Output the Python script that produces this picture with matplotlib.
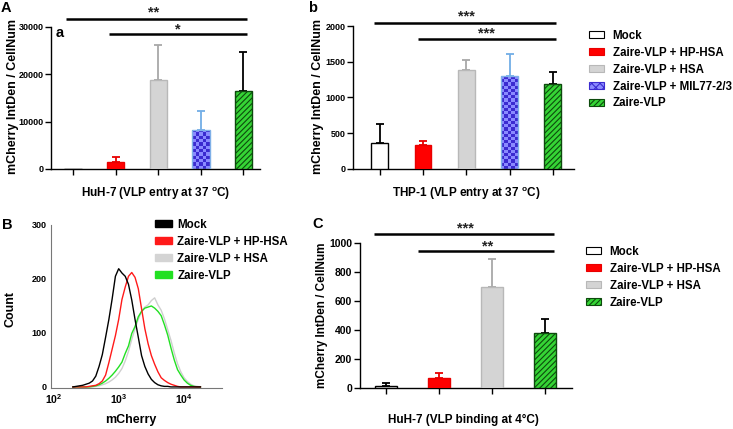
import numpy as np
import matplotlib.pyplot as plt
from matplotlib.patches import Patch
from matplotlib.colors import ListedColormap
from matplotlib.ticker import NullLocator

plt.rcParams['font.family'] = ['Liberation Sans', 'DejaVu Sans']
plt.rcParams['font.weight'] = 'bold'
plt.rcParams['mathtext.fontset'] = 'custom'
plt.rcParams['mathtext.rm'] = 'Liberation Sans:bold'
plt.rcParams['mathtext.bf'] = 'Liberation Sans:bold'
plt.rcParams['mathtext.it'] = 'Liberation Sans:bold'
plt.rcParams['hatch.linewidth'] = 0.8

# ---- data ----
groups_entry = ["Mock", "Zaire-VLP + HP-HSA", "Zaire-VLP + HSA",
                "Zaire-VLP + MIL77-2/3", "Zaire-VLP"]
huh7_entry_mean = [0, 1400, 18900, 8300, 16500]
huh7_entry_upper = [0, 2450, 26300, 12250, 24700]
thp1_entry_mean = [370, 330, 1380, 1300, 1190]
thp1_entry_upper = [635, 395, 1520, 1605, 1360]

groups_binding = ["Mock", "Zaire-VLP + HP-HSA", "Zaire-VLP + HSA", "Zaire-VLP"]
huh7_binding_mean = [16, 71, 700, 380]
huh7_binding_upper = [34, 106, 892, 476]

# flow cytometry histogram (log10 mCherry channel -> count)
log_mcherry = [2.30, 2.35, 2.40, 2.45, 2.50, 2.55, 2.60, 2.65, 2.70, 2.75,
               2.80, 2.85, 2.90, 2.95, 3.00, 3.05, 3.10, 3.15, 3.20, 3.25,
               3.30, 3.35, 3.40, 3.45, 3.50, 3.55, 3.60, 3.65, 3.70, 3.75,
               3.80, 3.85, 3.90, 3.95, 4.00, 4.05, 4.10, 4.15, 4.20, 4.25]
count_mock = [0, 1, 2, 3, 5, 7, 11, 20, 38, 60,
              92, 125, 163, 205, 219, 211, 205, 190, 161, 125,
              92, 58, 38, 24, 14, 8, 4, 2, 1, 1,
              0, 0, 0, 0, 0, 0, 0, 0, 0, 0]
count_hphsa = [0, 0, 0, 0, 0, 1, 2, 3, 6, 11,
               22, 45, 70, 95, 125, 162, 185, 205, 212, 203,
               182, 145, 108, 80, 58, 42, 28, 17, 12, 8,
               5, 3, 1, 0, 0, 0, 0, 0, 0, 0]
count_hsa = [0, 0, 0, 0, 0, 0, 0, 1, 2, 4,
             6, 9, 13, 18, 25, 34, 48, 66, 88, 108,
             125, 140, 148, 152, 160, 165, 152, 142, 126, 106,
             86, 63, 43, 28, 17, 10, 5, 2, 1, 0]
count_vlp = [0, 0, 0, 0, 0, 0, 1, 2, 4, 7,
             11, 16, 22, 29, 37, 46, 62, 76, 99, 112,
             130, 140, 146, 148, 150, 146, 140, 132, 115, 96,
             72, 50, 32, 22, 13, 7, 3, 1, 0, 0]

W, H = 733, 429
fig = plt.figure(figsize=(W / 100, H / 100), dpi=100)


def px_axes(left, top, right, bottom):
    return fig.add_axes([left / W, 1 - bottom / H, (right - left) / W, (bottom - top) / H])


def ftext(x, y, s, **kw):
    fig.text(x / W, 1 - y / H, s, **kw)


styles = {
    "Mock": dict(fc="white", ec="black", err="black", hatch=None),
    "Zaire-VLP + HP-HSA": dict(fc="#ff0000", ec="#e80000", err="#e80000", hatch=None),
    "Zaire-VLP + HSA": dict(fc="#d4d4d4", ec="#b8b8b8", err="#a8a8a8", hatch=None),
    "Zaire-VLP + MIL77-2/3": dict(fc="none", ec="#7fb0e8", err="#72aee6", hatch=None),
    "Zaire-VLP": dict(fc="#35d435", ec="#0d4a0d", err="black", hatch="//////"),
}
checker_cmap = ListedColormap(["#8a8aff", "#3b2bd0"])


def bar_panel(ax, groups, means, uppers, width, xlim, ylim, yticks, tick_fs):
    x = np.arange(len(groups))
    ax.set_xlim(*xlim)
    ax.set_ylim(*ylim)
    for i, g in enumerate(groups):
        st = styles[g]
        b = ax.bar(x[i], means[i], width, color=st["fc"], edgecolor=st["ec"],
                   hatch=st["hatch"], linewidth=1, zorder=3)[0]
        if uppers[i] > means[i]:
            ax.errorbar(x[i], means[i], yerr=[[0], [uppers[i] - means[i]]],
                        color=st["err"], capsize=3.2, elinewidth=1.3,
                        capthick=1.3, zorder=1)
        if g == "Zaire-VLP + MIL77-2/3":
            # checkerboard fill clipped to the bar
            bb = b.get_window_extent()
            nx = max(1, int(round(bb.width / 3.2)))
            ny = max(1, int(round(bb.height / 3.2)))
            pattern = np.add.outer(np.arange(ny), np.arange(nx)) % 2
            im = ax.imshow(pattern, cmap=checker_cmap, origin="lower",
                           extent=(b.get_x(), b.get_x() + b.get_width(), 0, means[i]),
                           aspect="auto", interpolation="nearest", zorder=2.5)
            im.set_clip_path(b)
    ax.set_xlim(*xlim)
    ax.set_ylim(*ylim)
    ax.set_xticks(x)
    ax.set_xticklabels([])
    ax.set_yticks(yticks)
    ax.set_yticklabels([str(t) for t in yticks], fontsize=tick_fs, fontweight="bold")
    ax.tick_params(axis="both", direction="out", length=4, width=1, pad=1.5)
    for s in ["top", "right"]:
        ax.spines[s].set_visible(False)
    for s in ["left", "bottom"]:
        ax.spines[s].set_linewidth(1)


def sig(ax, x0, x1, y, label, tx, ty, fs=10.5):
    tr = ax.get_xaxis_transform()
    ax.plot([x0, x1], [y, y], color="black", lw=1.8, transform=tr, clip_on=False,
            solid_capstyle="butt")
    ax.text(tx, ty, label, transform=tr, ha="center", va="center",
            fontsize=fs, color="#222222")


leg_kw = dict(loc="upper left", frameon=False, fontsize=8.3, handlelength=1.3,
              handleheight=0.55, handletextpad=0.75, labelspacing=0.42,
              borderpad=0, borderaxespad=0)

# ---- panel A (a) ----
axA = px_axes(51, 27, 260, 169)
bar_panel(axA, groups_entry, huh7_entry_mean, huh7_entry_upper, 0.41,
          (-0.52, 4.39), (0, 30000), [0, 10000, 20000, 30000], 6.5)
sig(axA, -0.16, 4.08, 1.054, "**", 1.88, 1.10)
sig(axA, 0.85, 4.08, 0.951, "*", 2.47, 0.98)
ftext(156, 194, "HuH-7 (VLP entry at 37 $^{\\mathbf{o}}$C)", ha="center", va="center", fontsize=8.5)
ftext(13, 96, "mCherry IntDen / CellNum", ha="center", va="center", rotation=90, fontsize=9)
ftext(1, 1, "A", ha="left", va="top", fontsize=10.5)
ftext(56, 37, "a", ha="left", va="baseline", fontsize=10.5)

# ---- panel b ----
axb = px_axes(353, 26, 574, 169)
bar_panel(axb, groups_entry, thp1_entry_mean, thp1_entry_upper, 0.39,
          (-0.62, 4.49), (0, 2000), [0, 500, 1000, 1500, 2000], 6.5)
sig(axb, -0.14, 4.07, 1.019, "***", 2.01, 1.065)
sig(axb, 0.88, 4.07, 0.907, "***", 2.47, 0.945)
ftext(466, 194, "THP-1 (VLP entry at 37 $^{\\mathbf{o}}$C)", ha="center", va="center", fontsize=8.5)
ftext(318, 96, "mCherry IntDen / CellNum", ha="center", va="center", rotation=90, fontsize=9)
ftext(308, 1, "b", ha="left", va="top", fontsize=10.5)

handles_entry = []
for g in groups_entry:
    st = styles[g]
    if g == "Zaire-VLP + MIL77-2/3":
        handles_entry.append(Patch(facecolor="#8a8aff", edgecolor="#3b2bd0", hatch="xxxx", lw=0.8))
    else:
        handles_entry.append(Patch(facecolor=st["fc"], edgecolor=st["ec"], hatch=st["hatch"], lw=0.8))
fig.legend(handles_entry, groups_entry, bbox_to_anchor=(589 / W, 1 - 30 / H), **leg_kw)

# ---- panel B (histogram) ----
axB = px_axes(51, 225, 222, 388)
xs = 10 ** np.array(log_mcherry)
axB.plot(xs, count_hsa, color="#cfcfcf", lw=1)
axB.plot(xs, count_vlp, color="#22e022", lw=1)
axB.plot(xs, count_hphsa, color="#ff1a1a", lw=1)
axB.plot(xs, count_mock, color="black", lw=1)
axB.set_xscale("log")
axB.set_xlim(10 ** 1.965, 10 ** 4.58)
axB.set_ylim(-2, 300)
axB.set_xticks([100, 1000, 10000])
axB.set_xticklabels(["$10^2$", "$10^3$", "$10^4$"], fontsize=7.5)
axB.xaxis.set_minor_locator(NullLocator())
axB.set_yticks([0, 100, 200, 300])
axB.set_yticklabels(["0", "100", "200", "300"], fontsize=6.5, fontweight="bold")
axB.tick_params(axis="both", length=0, pad=3)
for s in ["top", "right"]:
    axB.spines[s].set_visible(False)
for s in ["left", "bottom"]:
    axB.spines[s].set_color("#777777")
    axB.spines[s].set_linewidth(0.8)
ftext(131, 420, "mCherry", ha="center", va="center", fontsize=9)
ftext(10, 309, "Count", ha="center", va="center", rotation=90, fontsize=9)
ftext(2, 218, "B", ha="left", va="top", fontsize=10.5)

hist_labels = ["Mock", "Zaire-VLP + HP-HSA", "Zaire-VLP + HSA", "Zaire-VLP"]
hist_colors = ["black", "#ff1a1a", "#d4d4d4", "#22e022"]
fig.legend([Patch(facecolor=c, edgecolor=c) for c in hist_colors], hist_labels,
           bbox_to_anchor=(155 / W, 1 - 219 / H),
           **dict(leg_kw, handlelength=1.45, handletextpad=0.5))

# ---- panel C ----
axC = px_axes(360, 243, 572, 388)
bar_panel(axC, groups_binding, huh7_binding_mean, huh7_binding_upper, 0.4,
          (-0.49, 3.51), (0, 1000), [0, 200, 400, 600, 800, 1000], 7.5)
sig(axC, -0.23, 3.17, 1.06, "***", 1.49, 1.10)
sig(axC, 0.60, 3.17, 0.943, "**", 1.92, 0.975)
ftext(463, 420, "HuH-7 (VLP binding at 4°C)", ha="center", va="center", fontsize=8.5)
ftext(322, 315, "mCherry IntDen / CellNum", ha="center", va="center", rotation=90, fontsize=8.5)
ftext(312, 217, "C", ha="left", va="top", fontsize=10.5)

handles_binding = [Patch(facecolor=styles[g]["fc"], edgecolor=styles[g]["ec"],
                         hatch=styles[g]["hatch"], lw=0.8) for g in groups_binding]
fig.legend(handles_binding, groups_binding, bbox_to_anchor=(586 / W, 1 - 246 / H), **leg_kw)

fig.savefig("out.png", dpi=100)
